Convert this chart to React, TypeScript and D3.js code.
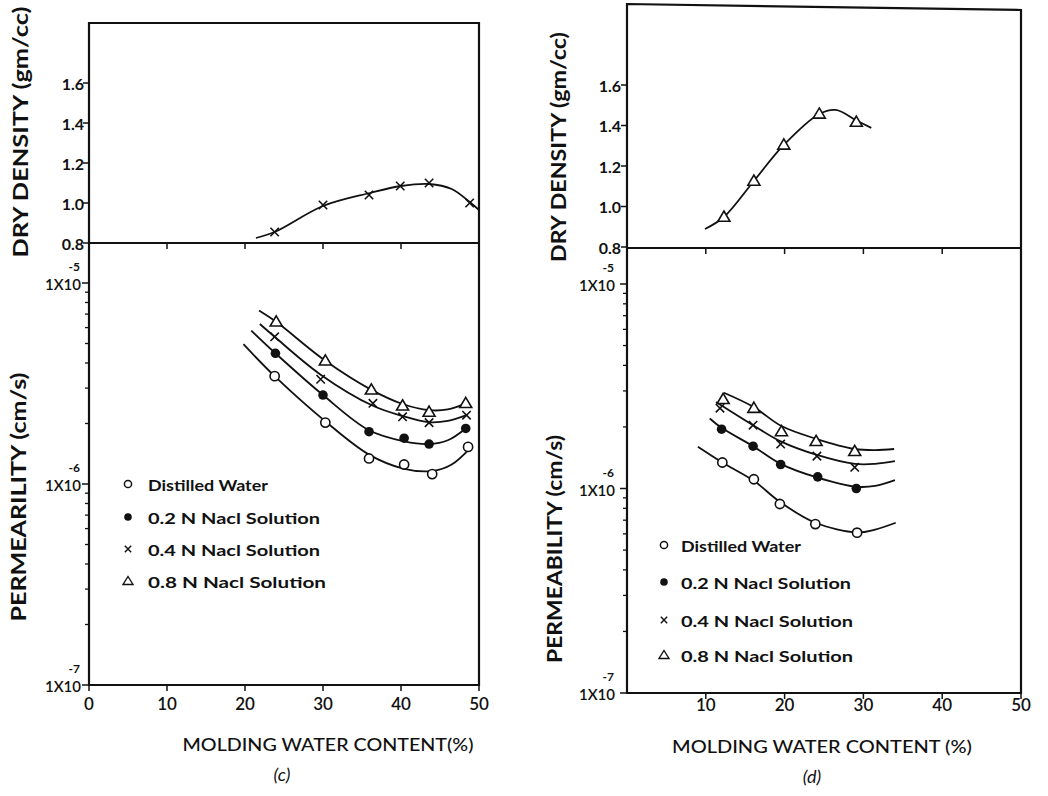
import React from "react";
import * as d3 from "d3";

// ---------- DATA ----------
const seriesNames = ["Distilled Water", "0.2 N Nacl Solution", "0.4 N Nacl Solution", "0.8 N Nacl Solution"];
const seriesMarkers = ["circle", "dot", "cross", "triangle"];

const xTicksC = [0, 10, 20, 30, 40, 50];
const xTicksD = [10, 20, 30, 40, 50];
const densityTicks = [0.8, 1.0, 1.2, 1.4, 1.6];
const permMajorTicks = [1e-5, 1e-6, 1e-7];
const permExponents = ["-5", "-6", "-7"];

// Panel (c) dry density
const densC_x = [23.8, 30.0, 35.9, 39.9, 43.6, 48.8];
const densC_y = [0.855, 0.99, 1.04, 1.085, 1.1, 1.0];
const densC_curve: [number, number][] = [[21.4, 0.825], [23.8, 0.855], [30, 0.985], [36, 1.05], [40, 1.085], [43.6, 1.095], [46.5, 1.07], [48.8, 1.005], [50, 0.965]];

// Panel (c) permeability
const permC_x = [
  [23.8, 30.3, 35.9, 40.4, 44.0, 48.6],
  [23.9, 30.0, 35.9, 40.4, 43.6, 48.3],
  [23.8, 29.7, 36.4, 40.2, 43.6, 48.4],
  [24.0, 30.3, 36.2, 40.2, 43.6, 48.3],
];
const permC_k = [
  [3.44e-6, 2.02e-6, 1.34e-6, 1.25e-6, 1.12e-6, 1.53e-6],
  [4.47e-6, 2.77e-6, 1.82e-6, 1.69e-6, 1.58e-6, 1.89e-6],
  [5.4e-6, 3.32e-6, 2.52e-6, 2.16e-6, 2.02e-6, 2.2e-6],
  [6.41e-6, 4.1e-6, 2.94e-6, 2.45e-6, 2.28e-6, 2.52e-6],
];
const permC_curves: [number, number][][] = [
  [[19.8, 4.96e-6], [23.8, 3.44e-6], [30.3, 2.05e-6], [35.9, 1.4e-6], [40.4, 1.19e-6], [44.0, 1.16e-6], [46.5, 1.25e-6], [48.8, 1.5e-6]],
  [[20.8, 5.8e-6], [23.9, 4.47e-6], [30.0, 2.77e-6], [35.9, 1.85e-6], [40.4, 1.63e-6], [43.6, 1.58e-6], [46, 1.65e-6], [48.3, 1.89e-6]],
  [[21.9, 6.25e-6], [23.8, 5.4e-6], [29.7, 3.5e-6], [36.4, 2.45e-6], [40.2, 2.18e-6], [43.6, 2.03e-6], [46, 2.06e-6], [48.4, 2.2e-6]],
  [[21.8, 7.3e-6], [24.0, 6.41e-6], [30.3, 4.1e-6], [36.2, 2.94e-6], [40.2, 2.5e-6], [43.6, 2.33e-6], [46, 2.35e-6], [48.3, 2.52e-6]],
];

// Panel (d) dry density
const densD_x = [12.3, 16.1, 19.9, 24.4, 29.1];
const densD_y = [0.948, 1.126, 1.304, 1.457, 1.417];
const densD_curve: [number, number][] = [[9.9, 0.889], [12.3, 0.948], [16.1, 1.126], [19.9, 1.304], [24.4, 1.457], [26.5, 1.477], [29.1, 1.425], [31.0, 1.388]];

// Panel (d) permeability
const permD_x = [
  [12.1, 16.1, 19.4, 23.9, 29.2],
  [12.0, 16.0, 19.5, 24.2, 29.1],
  [11.8, 16.0, 19.5, 24.1, 28.9],
  [12.2, 16.1, 19.6, 24.0, 28.9],
];
const permD_k = [
  [1.34e-6, 1.11e-6, 8.4e-7, 6.7e-7, 6.08e-7],
  [1.95e-6, 1.61e-6, 1.31e-6, 1.14e-6, 1.0e-6],
  [2.47e-6, 2.04e-6, 1.65e-6, 1.44e-6, 1.27e-6],
  [2.73e-6, 2.47e-6, 1.9e-6, 1.7e-6, 1.52e-6],
];
const permD_curves: [number, number][][] = [
  [[9.0, 1.6e-6], [12.1, 1.34e-6], [16.1, 1.09e-6], [19.4, 8.6e-7], [23.9, 6.8e-7], [29.2, 6.1e-7], [31.5, 6.3e-7], [34.1, 6.8e-7]],
  [[10.5, 2.2e-6], [12.0, 1.98e-6], [16.0, 1.61e-6], [19.5, 1.32e-6], [24.2, 1.13e-6], [29.1, 1.02e-6], [31.5, 1.03e-6], [34.0, 1.1e-6]],
  [[11.3, 2.65e-6], [16.0, 2.04e-6], [19.5, 1.7e-6], [24.1, 1.46e-6], [28.9, 1.32e-6], [31.5, 1.32e-6], [34.0, 1.36e-6]],
  [[12.3, 2.94e-6], [16.1, 2.5e-6], [19.6, 2.02e-6], [24.0, 1.75e-6], [28.9, 1.56e-6], [31.5, 1.54e-6], [33.9, 1.56e-6]],
];

// ---------- STYLE ----------
const FONT = "Lato, 'DejaVu Sans', sans-serif";
const INK = "#111";

type Layout = {
  left: number; right: number; top: number; topRight: number; mid: number; bottom: number;
  densTopY: number; densPerUnit: number; permY5: number;
};

const LC: Layout = { left: 89, right: 479, top: 23, topRight: 23, mid: 243, bottom: 685, densTopY: 243, densPerUnit: 200, permY5: 283 };
const LD: Layout = { left: 627, right: 1021, top: 4, topRight: 10, mid: 248, bottom: 693, densTopY: 247, densPerUnit: 202.5, permY5: 284 };

function Marker({ kind, x, y }: { kind: string; x: number; y: number }) {
  if (kind === "circle") return <circle cx={x} cy={y} r={4.6} fill="#fff" stroke={INK} strokeWidth={1.6} />;
  if (kind === "dot") return <circle cx={x} cy={y} r={4.8} fill={INK} />;
  if (kind === "cross") {
    const s = 4.2;
    return <path d={`M${x - s},${y - s}L${x + s},${y + s}M${x - s},${y + s}L${x + s},${y - s}`} stroke={INK} strokeWidth={1.6} />;
  }
  const s = 6;
  return <path d={`M${x},${y - s}L${x + s},${y + s * 0.7}L${x - s},${y + s * 0.7}Z`} fill="#fff" stroke={INK} strokeWidth={1.6} />;
}

function LegendMarker({ kind, x, y }: { kind: string; x: number; y: number }) {
  if (kind === "circle") return <circle cx={x} cy={y} r={3.6} fill="#fff" stroke={INK} strokeWidth={1.5} />;
  if (kind === "dot") return <circle cx={x} cy={y} r={3.8} fill={INK} />;
  if (kind === "cross") {
    const s = 3.2;
    return <path d={`M${x - s},${y - s}L${x + s},${y + s}M${x - s},${y + s}L${x + s},${y - s}`} stroke={INK} strokeWidth={1.4} />;
  }
  return <path d={`M${x},${y - 4.5}L${x + 5},${y + 3.5}L${x - 5},${y + 3.5}Z`} fill="#fff" stroke={INK} strokeWidth={1.4} />;
}

function Panel({
  L, xTicks, densX, densY, densCurve, densMarker, permX, permK, permCurves,
  legendX, legendTextX, legendY, legendLens, densTitle, permTitle, densTitlePos, permTitlePos,
  xTitle, xTitlePos, panelLabel, panelLabelPos, xLabelY, logLabelEnd, densLabelEnd,
}: any) {
  const x = d3.scaleLinear().domain([0, 50]).range([L.left, L.right]);
  const yD = d3.scaleLinear().domain([0.8, 1.6]).range([L.densTopY, L.densTopY - 0.8 * L.densPerUnit]);
  const yP = d3.scaleLog().domain([1e-7, 1e-5]).range([L.bottom, L.permY5]);
  const lineD = d3.line<[number, number]>().x((d) => x(d[0])).y((d) => yD(d[1])).curve(d3.curveCatmullRom.alpha(0.5));
  const lineP = d3.line<[number, number]>().x((d) => x(d[0])).y((d) => yP(d[1])).curve(d3.curveCatmullRom.alpha(0.5));

  const minor: number[] = [];
  for (let e = -7; e <= -6; e++) for (let m = 2; m <= 9; m++) minor.push(m * Math.pow(10, e));
  minor.push(2e-5);
  const minorVis = minor.filter((v) => yP(v) > L.mid + 2);

  const frame = `M${L.left},${L.bottom}L${L.left},${L.top}L${L.right},${L.topRight}L${L.right},${L.bottom}Z`;

  return (
    <g>
      {/* frame */}
      <path d={frame} fill="none" stroke={INK} strokeWidth={2.2} />
      <line x1={L.left} x2={L.right} y1={L.mid} y2={L.mid} stroke={INK} strokeWidth={2.2} />

      {/* x ticks on middle and bottom */}
      {xTicks.map((t: number) => (
        <g key={"xt" + t}>
          <line x1={x(t)} x2={x(t)} y1={L.mid} y2={L.mid + 6} stroke={INK} strokeWidth={1.5} />
          <line x1={x(t)} x2={x(t)} y1={L.bottom} y2={L.bottom + 6} stroke={INK} strokeWidth={1.5} />
          <text x={x(t)} y={xLabelY} textAnchor="middle" dominantBaseline="central" fontFamily={FONT} fontSize={17} fontWeight={600} fill={INK}>{t}</text>
        </g>
      ))}

      {/* density ticks */}
      {densityTicks.map((t) => (
        <g key={"dt" + t}>
          <line x1={L.left - 6} x2={L.left} y1={yD(t)} y2={yD(t)} stroke={INK} strokeWidth={1.5} />
          <text x={densLabelEnd} y={yD(t)} textAnchor="end" dominantBaseline="central" fontFamily={FONT} fontSize={16} fontWeight={700} fill={INK}>{t.toFixed(1)}</text>
        </g>
      ))}

      {/* permeability ticks */}
      {minorVis.map((v, i) => (
        <line key={"mn" + i} x1={L.left - 4} x2={L.left} y1={yP(v)} y2={yP(v)} stroke={INK} strokeWidth={1.3} />
      ))}
      {permMajorTicks.map((t, i) => (
        <g key={"pt" + i}>
          <line x1={L.left - 7} x2={L.left} y1={yP(t)} y2={yP(t)} stroke={INK} strokeWidth={1.5} />
          <text textAnchor="end" fontFamily={FONT} fontWeight={600} fill={INK}>
            <tspan x={logLabelEnd} y={yP(t) + 7} fontSize={15}>1X10</tspan>
            <tspan x={logLabelEnd - 1} y={yP(t) - 12} fontSize={12} fontWeight={700}>{permExponents[i]}</tspan>
          </text>
        </g>
      ))}

      {/* density curve and markers */}
      <path d={lineD(densCurve) || ""} fill="none" stroke={INK} strokeWidth={1.8} />
      {densX.map((v: number, i: number) => (
        <Marker key={"dm" + i} kind={densMarker} x={x(v)} y={yD(densY[i])} />
      ))}

      {/* permeability curves */}
      {permCurves.map((c: [number, number][], s: number) => (
        <path key={"pc" + s} d={lineP(c) || ""} fill="none" stroke={INK} strokeWidth={1.8} />
      ))}
      {permX.map((xs: number[], s: number) =>
        xs.map((v: number, i: number) => (
          <Marker key={"pm" + s + "_" + i} kind={seriesMarkers[s]} x={x(v)} y={yP(permK[s][i])} />
        ))
      )}

      {/* legend */}
      {seriesNames.map((n, s) => (
        <g key={"lg" + s}>
          <LegendMarker kind={seriesMarkers[s]} x={legendX} y={legendY[s]} />
          <text x={legendTextX} y={legendY[s]} dominantBaseline="central" fontFamily={FONT} fontSize={16} fontWeight={700} fill={INK}
            textLength={legendLens[s]} lengthAdjust="spacingAndGlyphs">{n}</text>
        </g>
      ))}

      {/* axis titles */}
      <text transform={`translate(${densTitlePos[0]},${densTitlePos[1]}) rotate(-90)`} textAnchor="middle" dominantBaseline="central"
        fontFamily={FONT} fontSize={20} fontWeight={700} fill={INK} textLength={densTitlePos[2]} lengthAdjust="spacingAndGlyphs">{densTitle}</text>
      <text transform={`translate(${permTitlePos[0]},${permTitlePos[1]}) rotate(-90)`} textAnchor="middle" dominantBaseline="central"
        fontFamily={FONT} fontSize={20} fontWeight={700} fill={INK} textLength={permTitlePos[2]} lengthAdjust="spacingAndGlyphs">{permTitle}</text>
      <text x={xTitlePos[0]} y={xTitlePos[1]} textAnchor="middle" dominantBaseline="central" fontFamily={FONT} fontSize={17} fontWeight={500}
        fill={INK} textLength={xTitlePos[2]} lengthAdjust="spacingAndGlyphs">{xTitle}</text>
      <text x={panelLabelPos[0]} y={panelLabelPos[1]} textAnchor="middle" dominantBaseline="central" fontFamily={FONT} fontSize={18}
        fontStyle="italic" fill={INK}>{panelLabel}</text>
    </g>
  );
}

export default function App() {
  return (
    <svg width={1048} height={796} style={{ position: "absolute", left: 0, top: 0, background: "#fff" }}>
      <rect x={0} y={0} width={1048} height={796} fill="#fff" />
      <Panel
        L={LC} xTicks={xTicksC} densX={densC_x} densY={densC_y} densCurve={densC_curve} densMarker="cross"
        permX={permC_x} permK={permC_k} permCurves={permC_curves}
        legendX={128} legendTextX={148} legendY={[484, 517, 549, 581]} legendLens={[120, 172, 172, 178]}
        densTitle="DRY DENSITY (gm/cc)" permTitle="PERMEARILITY (cm/s)"
        densTitlePos={[20, 132, 251]} permTitlePos={[18, 497, 249]}
        xTitle="MOLDING WATER CONTENT(%)" xTitlePos={[328, 744, 291]}
        panelLabel="(c)" panelLabelPos={[282, 774]} xLabelY={703} logLabelEnd={81} densLabelEnd={84}
      />
      <Panel
        L={LD} xTicks={xTicksD} densX={densD_x} densY={densD_y} densCurve={densD_curve} densMarker="triangle"
        permX={permD_x} permK={permD_k} permCurves={permD_curves}
        legendX={664} legendTextX={681} legendY={[545, 582, 620, 655]} legendLens={[120, 170, 172, 172]}
        densTitle="DRY DENSITY (gm/cc)" permTitle="PERMEABILITY (cm/s)"
        densTitlePos={[558, 147, 230]} permTitlePos={[554, 549, 228]}
        xTitle="MOLDING WATER CONTENT (%)" xTitlePos={[822, 746, 300]}
        panelLabel="(d)" panelLabelPos={[812, 776]} xLabelY={704} logLabelEnd={615} densLabelEnd={621}
      />
    </svg>
  );
}
